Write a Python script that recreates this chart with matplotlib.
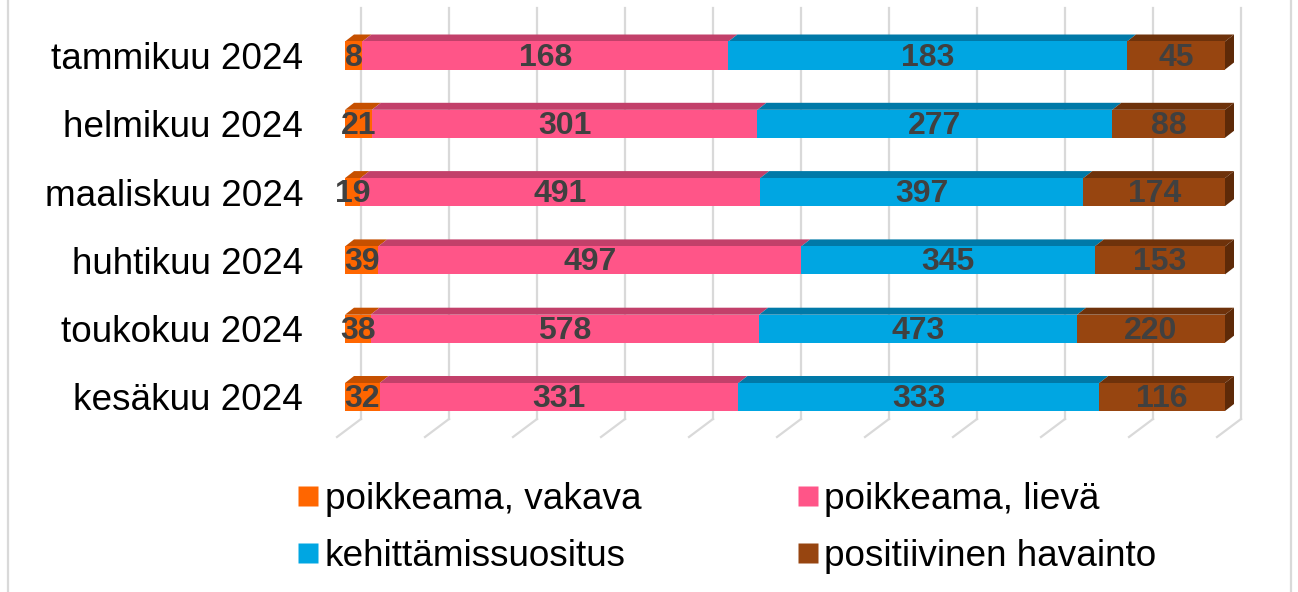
import numpy as np
import matplotlib.pyplot as plt
from matplotlib.patches import Polygon
from matplotlib.lines import Line2D

plt.rcParams['font.family'] = ['Liberation Sans', 'DejaVu Sans']

# data
months = ['tammikuu 2024', 'helmikuu 2024', 'maaliskuu 2024',
          'huhtikuu 2024', 'toukokuu 2024', 'kesäkuu 2024']
series = ['poikkeama, vakava', 'poikkeama, lievä', 'kehittämissuositus', 'positiivinen havainto']
vakava = [8, 21, 19, 39, 38, 32]
lieva = [168, 301, 491, 497, 578, 331]
kehitt = [183, 277, 397, 345, 473, 333]
positiivinen = [45, 88, 174, 153, 220, 116]

front = ['#FF6600', '#FF5588', '#00A6E2', '#974510']
top = ['#C65000', '#C2406A', '#0079A8', '#6E320B']
side = '#5E2A08'

W, H = 1298, 592
fig = plt.figure(figsize=(W / 100, H / 100), dpi=100)
# front face of the plot: x 345..1225 px, category rows 68.3 px apart
ax = fig.add_axes([345 / W, (H - 437) / H, 880 / W, 429 / H])
ax.set_xlim(0, 1)
ax.set_ylim((437 - 55.5) / 68.3, (8 - 55.5) / 68.3)

DX = 1 / 880.0   # one pixel in x units
DY = 1 / 68.3    # one pixel in y units

vals = np.array([vakava, lieva, kehitt, positiivinen], dtype=float)
share = vals / vals.sum(axis=0)

# gridlines on the back wall and floor
y_floor_back = (419 - 55.5) / 68.3
y_floor_front = (437 - 55.5) / 68.3
for p in np.arange(0, 1.01, 0.1):
    xb = p + 16 * DX
    ax.plot([xb, xb], [ax.get_ylim()[1], y_floor_back], color='#d9d9d9', lw=1.6, zorder=0, clip_on=False)
    ax.plot([xb, p - 8 * DX], [y_floor_back, y_floor_front], color='#d9d9d9', lw=1.6, zorder=0, clip_on=False)

h = 0.41
ys = np.arange(len(months))
left = np.zeros(len(months))
for k in range(4):
    ax.barh(ys, share[k], left=left, height=h, color=front[k], zorder=3)
    for i in range(len(months)):
        x0 = left[i]
        x1 = left[i] + share[k][i]
        yt = ys[i] - h / 2
        ax.add_patch(Polygon([[x0, yt], [x1, yt], [x1 + 9 * DX, yt - 7 * DY], [x0 + 9 * DX, yt - 7 * DY]],
                             closed=True, facecolor=top[k], edgecolor='none', zorder=2, clip_on=False))
        ax.text((x0 + x1) / 2, ys[i] + 0.03, '%d' % vals[k][i], ha='center', va='center',
                fontsize=23, fontweight='bold', color='#404040', zorder=5)
    left = left + share[k]

for i in range(len(months)):
    yt = ys[i] - h / 2
    yb = ys[i] + h / 2
    ax.add_patch(Polygon([[1, yt], [1, yb], [1 + 9 * DX, yb - 7 * DY], [1 + 9 * DX, yt - 7 * DY]],
                         closed=True, facecolor=side, edgecolor='none', zorder=2, clip_on=False))

ax.set_yticks(ys)
ax.set_yticklabels(months, fontsize=26.6, color='black')
ax.tick_params(axis='y', length=0, pad=30)
ax.set_xticks([])
for s in ax.spines.values():
    s.set_visible(False)
ax.patch.set_alpha(0)

# legend is filled row by row in the reference
order = [0, 2, 1, 3]
handles = [Line2D([], [], marker='s', linestyle='none', markersize=14.5, markerfacecolor=front[j],
                  markeredgecolor='none') for j in order]
fig.legend(handles, [series[j] for j in order], loc='center left', bbox_to_anchor=(297 / W, 1 - 528 / H),
           ncol=2, frameon=False, fontsize=26.6, handlelength=0.6, handletextpad=0.15,
           columnspacing=4.2, labelspacing=0.6, borderpad=0, borderaxespad=0)

# outer chart border (left/right)
fig.add_artist(Line2D([7.5 / W, 7.5 / W], [0, 1], color='#d9d9d9', lw=1.6))
fig.add_artist(Line2D([1290.5 / W, 1290.5 / W], [0, 1], color='#d9d9d9', lw=1.6))

fig.savefig('out.png', dpi=100)
